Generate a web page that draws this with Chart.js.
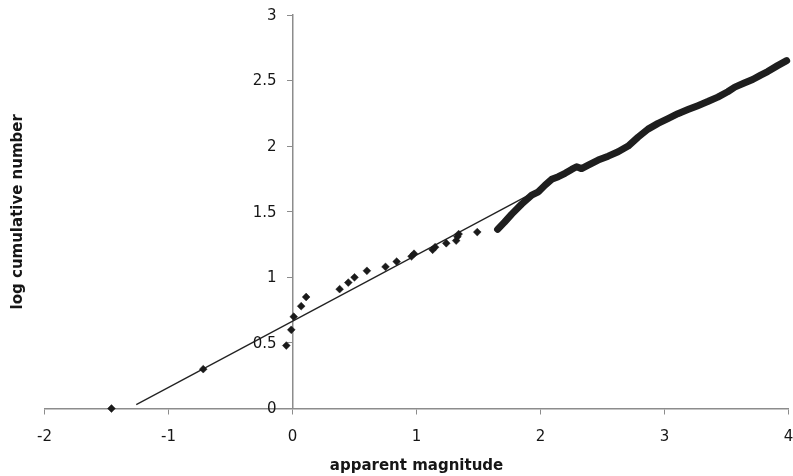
<!DOCTYPE html>
<html>
<head>
<meta charset="utf-8">
<script src="https://cdn.jsdelivr.net/npm/chart.js@4"></script>
<style>
  html, body { margin: 0; padding: 0; background: #ffffff; }
  #wrap { width: 793px; height: 476px; position: relative; }
</style>
</head>
<body>
<div id="wrap"><canvas id="c" width="793" height="476"></canvas></div>
<script>
// ---- data ----
const xTitle = 'apparent magnitude';
const yTitle = 'log cumulative number';
const xTickLabels = ['-2', '-1', '0', '1', '2', '3', '4'];
const yTickLabels = ['0', '0.5', '1', '1.5', '2', '2.5', '3'];

// individual bright stars (diamond markers)
const starMag  = [-1.46, -0.72, -0.05, -0.01, 0.01, 0.07, 0.11, 0.38, 0.45, 0.50, 0.60, 0.75, 0.84, 0.96, 0.98, 1.13, 1.15, 1.24, 1.32, 1.33, 1.34, 1.49];
const starLogN = [0.00, 0.30, 0.48, 0.60, 0.70, 0.78, 0.85, 0.91, 0.96, 1.00, 1.05, 1.08, 1.12, 1.16, 1.18, 1.21, 1.23, 1.26, 1.28, 1.31, 1.33, 1.345];

// dense run of fainter stars (markers merge into a band)
const bandMag  = [1.654, 1.710, 1.768, 1.849, 1.929, 1.983, 2.037, 2.090, 2.144, 2.198, 2.251, 2.291, 2.331, 2.385, 2.465, 2.546, 2.626, 2.707, 2.787, 2.867, 2.948, 3.028, 3.108, 3.189, 3.269, 3.349, 3.430, 3.510, 3.567, 3.643, 3.711, 3.776, 3.832, 3.912, 3.985];
const bandLogN = [1.366, 1.421, 1.482, 1.559, 1.627, 1.652, 1.703, 1.747, 1.767, 1.793, 1.823, 1.843, 1.829, 1.856, 1.894, 1.924, 1.957, 2.001, 2.069, 2.130, 2.174, 2.210, 2.248, 2.279, 2.309, 2.340, 2.374, 2.415, 2.450, 2.481, 2.508, 2.542, 2.569, 2.614, 2.652];

// straight fitted line (end points)
const fitMag  = [-1.26, 1.95];
const fitLogN = [0.03, 1.65];

const zip = (xs, ys) => xs.map((v, i) => ({ x: v, y: ys[i] }));

const FONT = '"DejaVu Sans", "Liberation Sans", Arial, sans-serif';
const INK = '#161616';
const AXIS = '#8c8c8c';

const textPlugin = {
  id: 'textPlugin',
  afterDraw(chart) {
    const { ctx, scales: { x, y }, chartArea } = chart;
    ctx.save();
    ctx.fillStyle = INK;
    // y tick labels, to the left of the y axis at x = 0
    ctx.font = '15px ' + FONT;
    ctx.textAlign = 'right';
    ctx.textBaseline = 'middle';
    const x0 = x.getPixelForValue(0);
    y.ticks.forEach((t, i) => {
      ctx.fillText(yTickLabels[i], x0 - 16, y.getPixelForValue(t.value) + 1);
    });
    // axis titles
    ctx.font = 'bold 15px ' + FONT;
    ctx.textAlign = 'center';
    ctx.textBaseline = 'alphabetic';
    ctx.fillText(xTitle, (chartArea.left + chartArea.right) / 2, 470);
    ctx.translate(21.5, (chartArea.top + chartArea.bottom) / 2);
    ctx.rotate(-Math.PI / 2);
    ctx.fillText(yTitle, 0, 0);
    ctx.restore();
  }
};

new Chart(document.getElementById('c'), {
  type: 'scatter',
  data: {
    datasets: [
      {
        label: 'fit',
        type: 'line',
        data: zip(fitMag, fitLogN),
        borderColor: '#222222',
        borderWidth: 1.3,
        pointRadius: 0,
        fill: false,
        order: 3
      },
      {
        label: 'faint stars',
        type: 'line',
        data: zip(bandMag, bandLogN),
        borderColor: '#1e1e1e',
        borderWidth: 7,
        borderCapStyle: 'round',
        borderJoinStyle: 'round',
        pointRadius: 0,
        fill: false,
        clip: false,
        order: 2
      },
      {
        label: 'bright stars',
        data: zip(starMag, starLogN),
        pointStyle: 'rectRot',
        pointRadius: 3.9,
        backgroundColor: '#1a1a1a',
        borderColor: '#1a1a1a',
        borderWidth: 0.5,
        clip: false,
        order: 1
      }
    ]
  },
  options: {
    responsive: false,
    animation: false,
    events: [],
    layout: { padding: { left: 44.5, right: 2, top: 15, bottom: 67.5 } },
    plugins: { legend: { display: false }, tooltip: { enabled: false }, title: { display: false } },
    scales: {
      x: {
        type: 'linear',
        position: { y: 0 },
        min: -2,
        max: 4,
        afterFit(s) { s.paddingLeft = 0; s.paddingRight = 0; },
        ticks: {
          stepSize: 1,
          padding: 15,
          color: INK,
          font: { family: FONT, size: 15 },
          maxRotation: 0,
          callback: (v, i) => xTickLabels[i]
        },
        grid: { drawOnChartArea: false, drawTicks: true, tickLength: 5, color: AXIS, lineWidth: 1 },
        border: { display: true, color: AXIS, width: 1.5 },
        title: { display: false }
      },
      y: {
        type: 'linear',
        position: { x: 0 },
        min: 0,
        max: 3,
        afterFit(s) { s.paddingTop = 0; s.paddingBottom = 0; },
        ticks: { stepSize: 0.5, display: false },
        grid: { drawOnChartArea: false, drawTicks: true, tickLength: 5, color: AXIS, lineWidth: 1 },
        border: { display: true, color: AXIS, width: 1.5 },
        title: { display: false }
      }
    }
  },
  plugins: [textPlugin]
});
</script>
</body>
</html>
